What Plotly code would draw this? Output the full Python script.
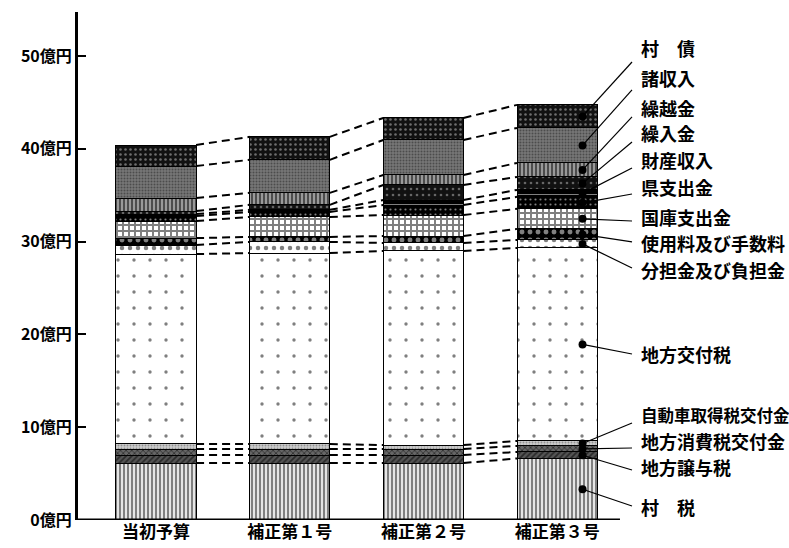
import plotly.graph_objects as go
import numpy as np

# ---------------- data (億円) ----------------
categories = ["当初予算", "補正第１号", "補正第２号", "補正第３号"]

items = ["村税", "地方譲与税", "地方消費税交付金", "自動車取得税交付金", "地方交付税",
         "分担金及び負担金", "使用料及び手数料", "国庫支出金", "県支出金", "財産収入",
         "繰入金", "繰越金", "諸収入", "村債"]

sonzei      = [6.14, 6.14, 6.14, 6.63]
joyozei     = [0.86, 0.86, 0.86, 0.70]
shohizei    = [0.65, 0.65, 0.65, 0.65]
jidoshazei  = [0.54, 0.54, 0.43, 0.54]
kofuzei     = [20.47, 20.58, 20.91, 20.80]
buntankin   = [0.97, 1.19, 0.86, 0.86]
shiyoryo    = [0.75, 0.54, 0.75, 1.19]
kokko       = [1.83, 2.16, 2.26, 2.16]
kenshishutsu = [0.54, 0.54, 1.08, 1.29]
zaisan      = [0.22, 0.22, 0.54, 0.75]
kurirekin   = [0.32, 0.54, 1.62, 1.40]
kurikoshi   = [1.40, 1.29, 1.08, 1.51]
shoshunyu   = [3.45, 3.56, 3.77, 3.77]
sonsai      = [2.26, 2.48, 2.37, 2.48]

series = [sonzei, joyozei, shohizei, jidoshazei, kofuzei, buntankin, shiyoryo,
          kokko, kenshishutsu, zaisan, kurirekin, kurikoshi, shoshunyu, sonsai]

label_texts = ["村　税", "地方譲与税", "地方消費税交付金", "自動車取得税交付金", "地方交付税",
               "分担金及び負担金", "使用料及び手数料", "国庫支出金", "県支出金", "財産収入",
               "繰入金", "繰越金", "諸収入", "村　債"]

tick_vals = [0, 10, 20, 30, 40, 50]
tick_text = ["0億円", "10億円", "20億円", "30億円", "40億円", "50億円"]

# ---------------- styles ----------------
patterns = [
    dict(shape="|", fgcolor="black", bgcolor="white", size=4, solidity=0.6),
    dict(shape="/", fgcolor="black", bgcolor="#555", size=4, solidity=0.45),
    dict(shape="x", fgcolor="black", bgcolor="#666", size=4, solidity=0.4),
    dict(shape=".", fgcolor="#555", bgcolor="#ccc", size=3, solidity=0.3),
    dict(shape=".", fgcolor="black", bgcolor="white", size=16, solidity=0.035),
    dict(shape=".", fgcolor="black", bgcolor="white", size=8, solidity=0.25),
    dict(shape=".", fgcolor="white", bgcolor="black", size=8, solidity=0.3),
    dict(shape="+", fgcolor="black", bgcolor="white", size=6, solidity=0.55),
    dict(shape=".", fgcolor="white", bgcolor="black", size=5, solidity=0.15),
    dict(shape="-", fgcolor="white", bgcolor="black", size=5, solidity=0.2),
    dict(shape=".", fgcolor="#bbb", bgcolor="#111", size=6, solidity=0.15),
    dict(shape="|", fgcolor="black", bgcolor="#999", size=4, solidity=0.5),
    dict(shape=".", fgcolor="#222", bgcolor="#777", size=3, solidity=0.35),
    dict(shape=".", fgcolor="#ccc", bgcolor="#111", size=5, solidity=0.2),
]

BAR_W = 0.6
FONT = "Noto Sans CJK JP"

x_pos = np.arange(len(categories))
fig = go.Figure()

for name, vals, pat in zip(items, series, patterns):
    fig.add_trace(go.Bar(
        x=x_pos, y=vals, name=name, width=BAR_W,
        marker=dict(color="white", pattern=pat, line=dict(color="black", width=1)),
        showlegend=False, hoverinfo="skip"))

# dashed connectors between adjacent bars at every segment boundary
cum = np.cumsum(np.array(series), axis=0)  # shape (items, bars)
cx, cy = [], []
for k in range(cum.shape[0]):
    for i in range(len(categories) - 1):
        cx += [x_pos[i] + BAR_W / 2, x_pos[i + 1] - BAR_W / 2, None]
        cy += [cum[k, i], cum[k, i + 1], None]
fig.add_trace(go.Scatter(x=cx, y=cy, mode="lines",
                         line=dict(color="black", width=2, dash="8px,5px"),
                         showlegend=False, hoverinfo="skip"))

# leader lines and dots on the last bar
last = len(categories) - 1
mids = cum[:, last] - np.array(series)[:, last] / 2
dot_x = x_pos[last] + 0.19
lead_x = x_pos[last] + 0.56
text_x = x_pos[last] + 0.61
label_y = [1.40, 5.71, 8.51, 11.31, 17.89, 26.94, 29.85, 32.65, 35.88, 38.79,
           41.70, 44.40, 47.63, 50.86]
lead_y = [1.51, 5.39, 7.76, 10.45, 17.89, 27.16, 29.96, 32.22, 35.13, 37.93,
          40.73, 43.43, 46.34, 49.35]
label_size = [18, 18, 18, 16.5, 18, 18, 18, 18, 18, 18, 18, 18, 18, 18]

lx, ly = [], []
for k in range(len(items)):
    lx += [lead_x, dot_x, None]
    ly += [lead_y[k], mids[k], None]
fig.add_trace(go.Scatter(x=lx, y=ly, mode="lines",
                         line=dict(color="black", width=1.2),
                         showlegend=False, hoverinfo="skip", cliponaxis=False))
fig.add_trace(go.Scatter(x=[dot_x] * len(items), y=mids, mode="markers",
                         marker=dict(color="black", size=8),
                         showlegend=False, hoverinfo="skip", cliponaxis=False))

for t, yv, fs in zip(label_texts, label_y, label_size):
    fig.add_annotation(x=text_x, y=yv, xref="x", yref="y", text=t,
                       showarrow=False, xanchor="left", yanchor="middle",
                       font=dict(family=FONT, size=fs, color="black", weight="bold"))

# x baseline
x_left = -0.583
x_right = 3.47
fig.add_shape(type="line", xref="x", yref="y", x0=x_left, x1=x_right, y0=0, y1=0,
              line=dict(color="black", width=3))

fig.update_layout(
    width=789, height=548,
    margin=dict(l=78, r=0, t=12, b=28),
    paper_bgcolor="white", plot_bgcolor="white",
    barmode="stack", bargap=0.4,
    font=dict(family=FONT, color="black"),
    xaxis=dict(range=[x_left, 4.734], tickvals=list(x_pos), ticktext=categories,
               showgrid=False, zeroline=False, showline=False, ticks="",
               tickfont=dict(family=FONT, size=17, color="black", weight="bold")),
    yaxis=dict(range=[0, 54.74], tickvals=tick_vals, ticktext=tick_text,
               showgrid=False, zeroline=False, showline=True, linecolor="black",
               linewidth=3, ticks="inside", ticklen=8, tickwidth=1.5,
               tickcolor="black",
               tickfont=dict(family=FONT, size=16, color="black", weight="bold")),
)

fig.write_html("out.html")
